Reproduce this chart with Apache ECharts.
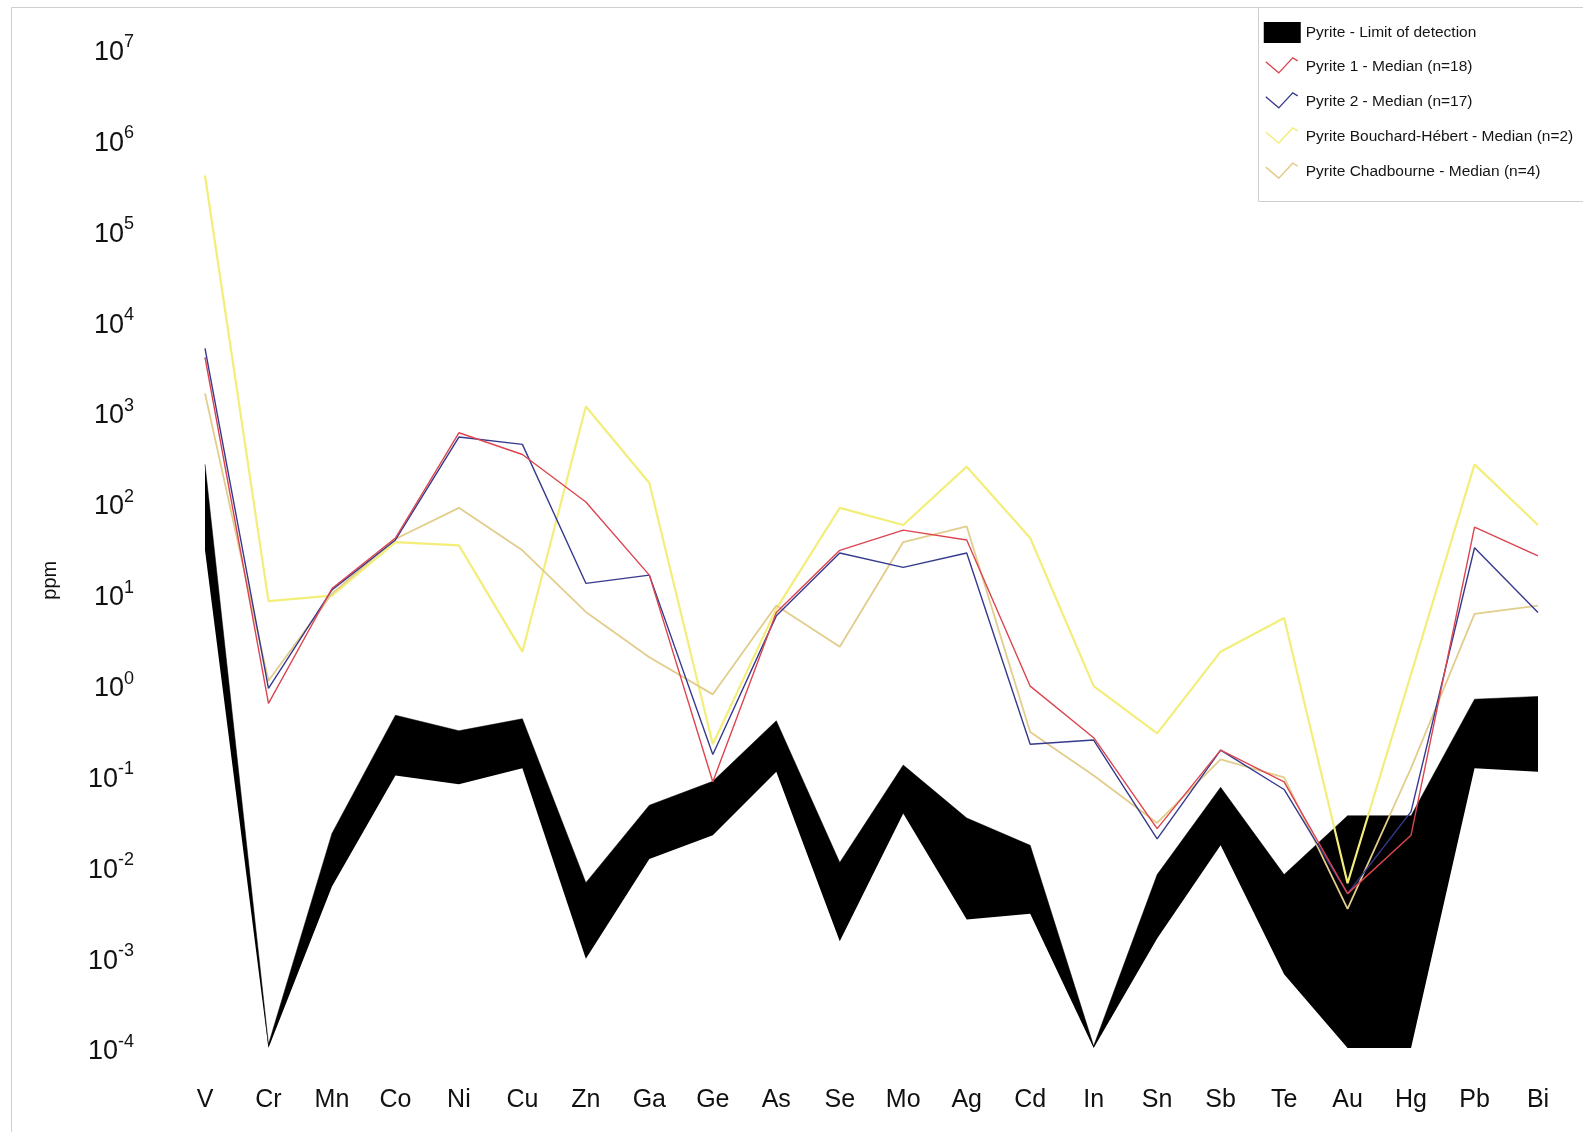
<!DOCTYPE html>
<html>
<head>
<meta charset="utf-8">
<script src="https://cdn.jsdelivr.net/npm/echarts@6/dist/echarts.min.js"></script>
<style>
html,body{margin:0;padding:0;background:#fff;}
#chart{width:1583px;height:1132px;}
</style>
</head>
<body>
<div id="chart"></div>
<script>
var elements = ['V','Cr','Mn','Co','Ni','Cu','Zn','Ga','Ge','As','Se','Mo','Ag','Cd','In','Sn','Sb','Te','Au','Hg','Pb','Bi'];

var lodLow  = [30, 1e-4, 0.006, 0.1, 0.08, 0.12, 0.00096, 0.012, 0.022, 0.11, 0.0015, 0.038, 0.0026, 0.003, 1e-4, 0.0016, 0.017, 0.00065, 1e-4, 1e-4, 0.12, 0.11];
var lodHigh = [265, 1.1e-4, 0.023, 0.46, 0.31, 0.42, 0.0066, 0.047, 0.086, 0.4, 0.011, 0.13, 0.034, 0.017, 1.05e-4, 0.0081, 0.074, 0.0081, 0.036, 0.036, 0.69, 0.74];

var pyrite1 = [4000, 0.62, 11.4, 41, 590, 340, 102, 16, 0.085, 6.2, 30, 50, 39, 0.96, 0.26, 0.026, 0.19, 0.085, 0.005, 0.022, 54, 26];
var pyrite2 = [5000, 0.91, 11, 39, 530, 440, 13, 16, 0.17, 5.7, 28, 19.5, 28, 0.22, 0.245, 0.02, 0.19, 0.07, 0.005, 0.04, 32, 6.2];
var bouchard = [400000, 8.3, 9.5, 37, 34, 2.3, 1150, 165, 0.22, 6.8, 88, 57, 250, 41, 0.96, 0.29, 2.3, 5.4, 0.0065, 1.3, 265, 57];
var chadbourne = [1600, 1.1, 10, 40, 88, 30, 6.3, 2.0, 0.78, 7.4, 2.6, 37, 55, 0.3, 0.1, 0.03, 0.15, 0.095, 0.0034, 0.12, 6, 7.4];

var names = ['Pyrite - Limit of detection','Pyrite 1 - Median (n=18)','Pyrite 2 - Median (n=17)','Pyrite Bouchard-Hébert - Median (n=2)','Pyrite Chadbourne - Median (n=4)'];
var colors = ['#000000','#dc4550','#363a8e','#f3ee7a','#e2cd8c'];

var lodDiff = lodHigh.map(function(h,i){ return h - lodLow[i]; });

var lineIcon = 'path://M0,0 M37,21 M2,5.5 L15,16.5 L29,1.5 L34,4.5';
var rectIcon = 'path://M0,0 L37,0 L37,21 L0,21 Z';

var chart = echarts.init(document.getElementById('chart'));
chart.setOption({
  animation: false,
  backgroundColor: '#fff',
  textStyle: {fontFamily: 'Liberation Sans, Arial, sans-serif'},
  graphic: [
    {type:'rect', left:9, top:5, shape:{width:1600, height:1200}, style:{fill:'none', stroke:'#cfcfcf', lineWidth:1}, silent:true, z:-1},
    {type:'rect', left:1256, top:5, shape:{width:400, height:194}, style:{fill:'none', stroke:'#cfcfcf', lineWidth:1}, silent:true, z:-1}
  ],
  grid: {left: 205, right: 45, top: 48.5, bottom: 84, containLabel: false},
  legend: {
    orient: 'vertical',
    left: 1263,
    top: 22,
    itemWidth: 37,
    itemHeight: 21,
    itemGap: 12.7,
    padding: 0,
    textStyle: {fontSize: 15.5, color: '#151515', fontFamily: 'Liberation Sans, Arial, sans-serif', padding:[0,0,0,0]},
    data: [
      {name: names[0], icon: rectIcon, itemStyle: {color: '#000', borderWidth: 0}},
      {name: names[1], icon: lineIcon, itemStyle: {color: 'rgba(0,0,0,0)', borderColor: colors[1], borderWidth: 1.3}},
      {name: names[2], icon: lineIcon, itemStyle: {color: 'rgba(0,0,0,0)', borderColor: colors[2], borderWidth: 1.3}},
      {name: names[3], icon: lineIcon, itemStyle: {color: 'rgba(0,0,0,0)', borderColor: colors[3], borderWidth: 1.5}},
      {name: names[4], icon: lineIcon, itemStyle: {color: 'rgba(0,0,0,0)', borderColor: colors[4], borderWidth: 1.5}}
    ]
  },
  xAxis: {
    type: 'category',
    data: elements,
    boundaryGap: false,
    axisLine: {show: false},
    axisTick: {show: false},
    splitLine: {show: false},
    axisLabel: {fontSize: 25, color: '#111', margin: 40, interval: 0}
  },
  yAxis: {
    type: 'log',
    logBase: 10,
    min: 1e-4,
    max: 1e7,
    interval: 1,
    name: 'ppm',
    nameLocation: 'middle',
    nameGap: 145,
    nameRotate: 90,
    nameTextStyle: {fontSize: 20, color: '#111', padding: [0, 64, 0, 0]},
    axisLine: {show: false},
    axisTick: {show: false},
    splitLine: {show: false},
    axisLabel: {
      margin: 71,
      formatter: function (v) {
        var e = Math.round(Math.log(v) / Math.LN10);
        return '{b|10}{e|' + e + '}';
      },
      rich: {
        b: {fontSize: 27, color: '#111', padding: [8, 0, 0, 0]},
        e: {fontSize: 18, color: '#111', padding: [0, 0, 12, 0]}
      }
    }
  },
  series: [
    {name: 'lodBase', type: 'line', stack: 'lod', data: lodLow, symbol: 'none', lineStyle: {width: 0, opacity: 0}, silent: true, z: 1},
    {name: names[0], type: 'line', stack: 'lod', data: lodDiff, symbol: 'none', lineStyle: {width: 0.5, color: '#000'}, itemStyle: {color: '#000'}, areaStyle: {color: '#000', opacity: 1}, z: 1},
    {name: names[3], type: 'line', data: bouchard, symbol: 'none', lineStyle: {width: 2.2, color: colors[3]}, itemStyle: {color: colors[3]}, z: 2},
    {name: names[4], type: 'line', data: chadbourne, symbol: 'none', lineStyle: {width: 1.8, color: colors[4]}, itemStyle: {color: colors[4]}, z: 3},
    {name: names[2], type: 'line', data: pyrite2, symbol: 'none', lineStyle: {width: 1.4, color: colors[2]}, itemStyle: {color: colors[2]}, z: 4},
    {name: names[1], type: 'line', data: pyrite1, symbol: 'none', lineStyle: {width: 1.4, color: colors[1]}, itemStyle: {color: colors[1]}, z: 5}
  ]
});
</script>
</body>
</html>
